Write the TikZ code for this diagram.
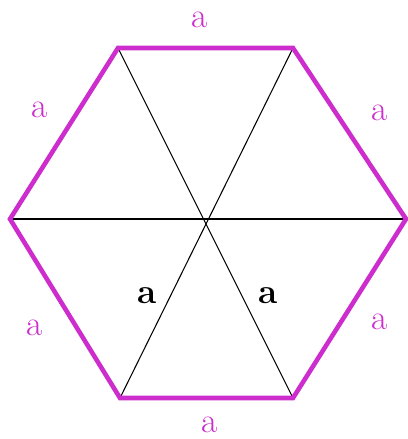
\documentclass[tikz,border=0pt]{standalone}
\usepackage{tikz}
\definecolor{edge}{RGB}{204,45,204}
\begin{document}
\begin{tikzpicture}[x=0.02cm,y=-0.02cm,
  side/.style={draw=edge, line width=2.6pt, line join=miter},
  spoke/.style={draw=black, line width=0.6pt},
  sidelbl/.style={text=edge, inner sep=1pt, font=\fontsize{20}{24}\selectfont},
  innerlbl/.style={text=black, inner sep=1pt, font=\fontsize{20}{24}\selectfont\bfseries},
]
  \useasboundingbox (0,0) rectangle (408,439);

  % vertices
  \coordinate (tl) at (118,48);
  \coordinate (tr) at (293,48);
  \coordinate (r) at (406,219);
  \coordinate (br) at (293,398);
  \coordinate (bl) at (120,398);
  \coordinate (l) at (10,219);
  \coordinate (c) at (208,222);

  % spokes
  \draw[spoke] (l) -- (r);
  \draw[spoke] (tl) -- (br);
  \draw[spoke] (tr) -- (bl);

  % sides
  \draw[side] (tl) -- (tr) -- (r) -- (br) -- (bl) -- (l) -- cycle;

  % labels
  \node[sidelbl] (atop) at (200,20) {a};
  \node[sidelbl] (aul) at (40,110) {a};
  \node[sidelbl] (aur) at (380,113) {a};
  \node[sidelbl] (all) at (35,328) {a};
  \node[sidelbl] (alr) at (380,322) {a};
  \node[sidelbl] (abot) at (210,425) {a};
  \node[innerlbl] (ain1) at (147,296) {a};
  \node[innerlbl] (ain2) at (268,296) {a};
\end{tikzpicture}
\end{document}
